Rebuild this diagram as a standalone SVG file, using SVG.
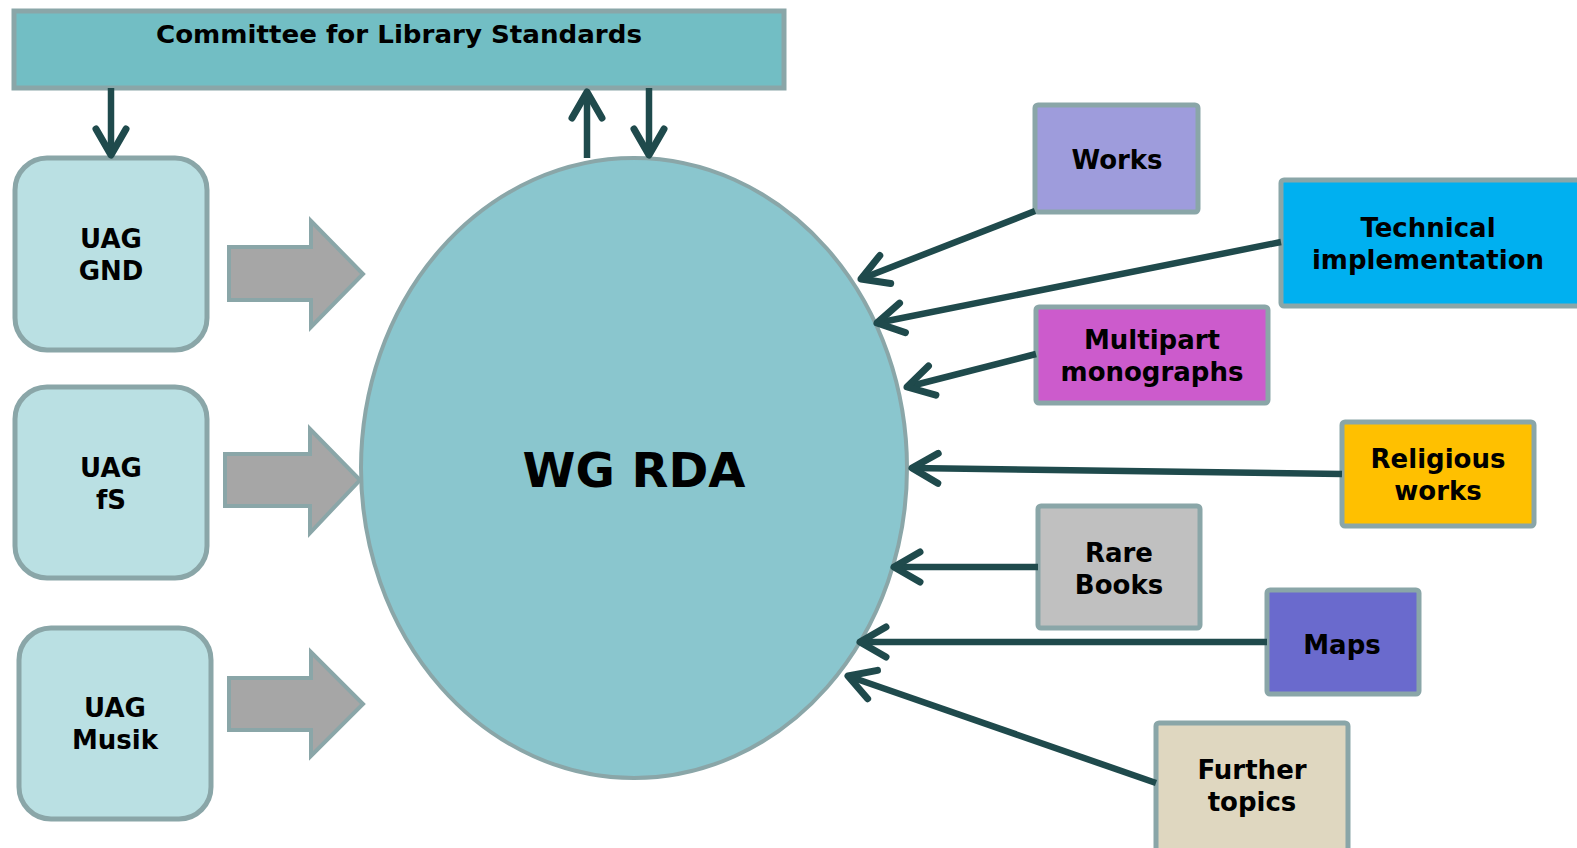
<svg xmlns="http://www.w3.org/2000/svg" width="1577" height="848" viewBox="0 0 1577 848">
<defs>
<style>
text{font-family:"DejaVu Sans","Verdana",sans-serif;font-weight:bold;fill:#000;text-anchor:middle}
.lbl{font-size:26px}
.box{stroke:#8AA6A8;stroke-width:5}
.uag{fill:#BAE0E3;stroke:#8AA6A8;stroke-width:5}
.blk{fill:#A6A6A6;stroke:#8AA6A8;stroke-width:4}
.con{stroke:#1F4A4C;stroke-width:6.5;fill:none;marker-end:url(#ah)}
</style>
<marker id="ah" markerUnits="userSpaceOnUse" viewBox="-34 -20 40 40" refX="0" refY="0" markerWidth="40" markerHeight="40" orient="auto" overflow="visible">
<path d="M -26 -15 L 0 0 L -26 15" fill="none" stroke="#1F4A4C" stroke-width="7" stroke-linecap="round" stroke-linejoin="round"/>
</marker>
</defs>
<rect width="1577" height="848" fill="#fff"/>

<g id="committee">
<rect x="14" y="11" width="770" height="77" fill="#72BEC4" class="box"/>
<text x="399" y="43" font-size="25" textLength="486" lengthAdjust="spacingAndGlyphs">Committee for Library Standards</text>
</g>

<g id="uag-gnd">
<rect x="15" y="158" width="192" height="192" rx="32" class="uag"/>
<text class="lbl" x="111" y="248">UAG</text>
<text class="lbl" x="111" y="280">GND</text>
</g>
<g id="uag-fs">
<rect x="15" y="387" width="192" height="191" rx="32" class="uag"/>
<text class="lbl" x="111" y="477">UAG</text>
<text class="lbl" x="111" y="509">fS</text>
</g>
<g id="uag-musik">
<rect x="19" y="628" width="192" height="191" rx="32" class="uag"/>
<text class="lbl" x="115" y="717">UAG</text>
<text class="lbl" x="115" y="749">Musik</text>
</g>

<g id="block-arrows">
<polygon class="blk" points="229,247 311,247 311,221 363,274 311,327 311,300 229,300"/>
<polygon class="blk" points="225,454 310,454 310,429 360,480 310,533 310,506 225,506"/>
<polygon class="blk" points="229,678 311,678 311,652 363,704 311,756 311,730 229,730"/>
</g>

<g id="wg-rda">
<ellipse cx="634" cy="468" rx="273" ry="310" fill="#8AC6CE" stroke="#8AA6A8" stroke-width="4"/>
<text x="634" y="487" font-size="48">WG RDA</text>
</g>

<g id="works">
<rect x="1035" y="105" width="163" height="107" rx="3" fill="#9E9CDC" class="box"/>
<text class="lbl" x="1117" y="169">Works</text>
</g>
<g id="technical">
<rect x="1281" y="180" width="300" height="126" rx="3" fill="#00B0F0" class="box"/>
<text class="lbl" x="1428" y="237">Technical</text>
<text class="lbl" x="1428" y="269">implementation</text>
</g>
<g id="multipart">
<rect x="1036" y="307" width="232" height="96" rx="3" fill="#CC5BCC" class="box"/>
<text class="lbl" x="1152" y="349">Multipart</text>
<text class="lbl" x="1152" y="381">monographs</text>
</g>
<g id="religious">
<rect x="1342" y="422" width="192" height="104" rx="3" fill="#FFC000" class="box"/>
<text class="lbl" x="1438" y="468">Religious</text>
<text class="lbl" x="1438" y="500">works</text>
</g>
<g id="rare-books">
<rect x="1038" y="506" width="162" height="122" rx="3" fill="#C0C0C0" class="box"/>
<text class="lbl" x="1119" y="562">Rare</text>
<text class="lbl" x="1119" y="594">Books</text>
</g>
<g id="maps">
<rect x="1267" y="590" width="152" height="104" rx="3" fill="#6A6ACD" class="box"/>
<text class="lbl" x="1342" y="654">Maps</text>
</g>
<g id="further">
<rect x="1156" y="723" width="192" height="130" rx="3" fill="#DFD7C0" class="box"/>
<text class="lbl" x="1252" y="779">Further</text>
<text class="lbl" x="1252" y="811">topics</text>
</g>

<g id="connectors">
<line class="con" x1="111" y1="88" x2="111" y2="155"/>
<line class="con" x1="587" y1="158" x2="587" y2="92"/>
<line class="con" x1="649" y1="88" x2="649" y2="155"/>
<line class="con" x1="1035" y1="211" x2="861" y2="279"/>
<line class="con" x1="1281" y1="242" x2="877" y2="323"/>
<line class="con" x1="1036" y1="354" x2="907" y2="387"/>
<line class="con" x1="1342" y1="474" x2="912" y2="468"/>
<line class="con" x1="1038" y1="567" x2="894" y2="567"/>
<line class="con" x1="1267" y1="642" x2="860" y2="642"/>
<line class="con" x1="1156" y1="783" x2="848" y2="676"/>
</g>
</svg>
